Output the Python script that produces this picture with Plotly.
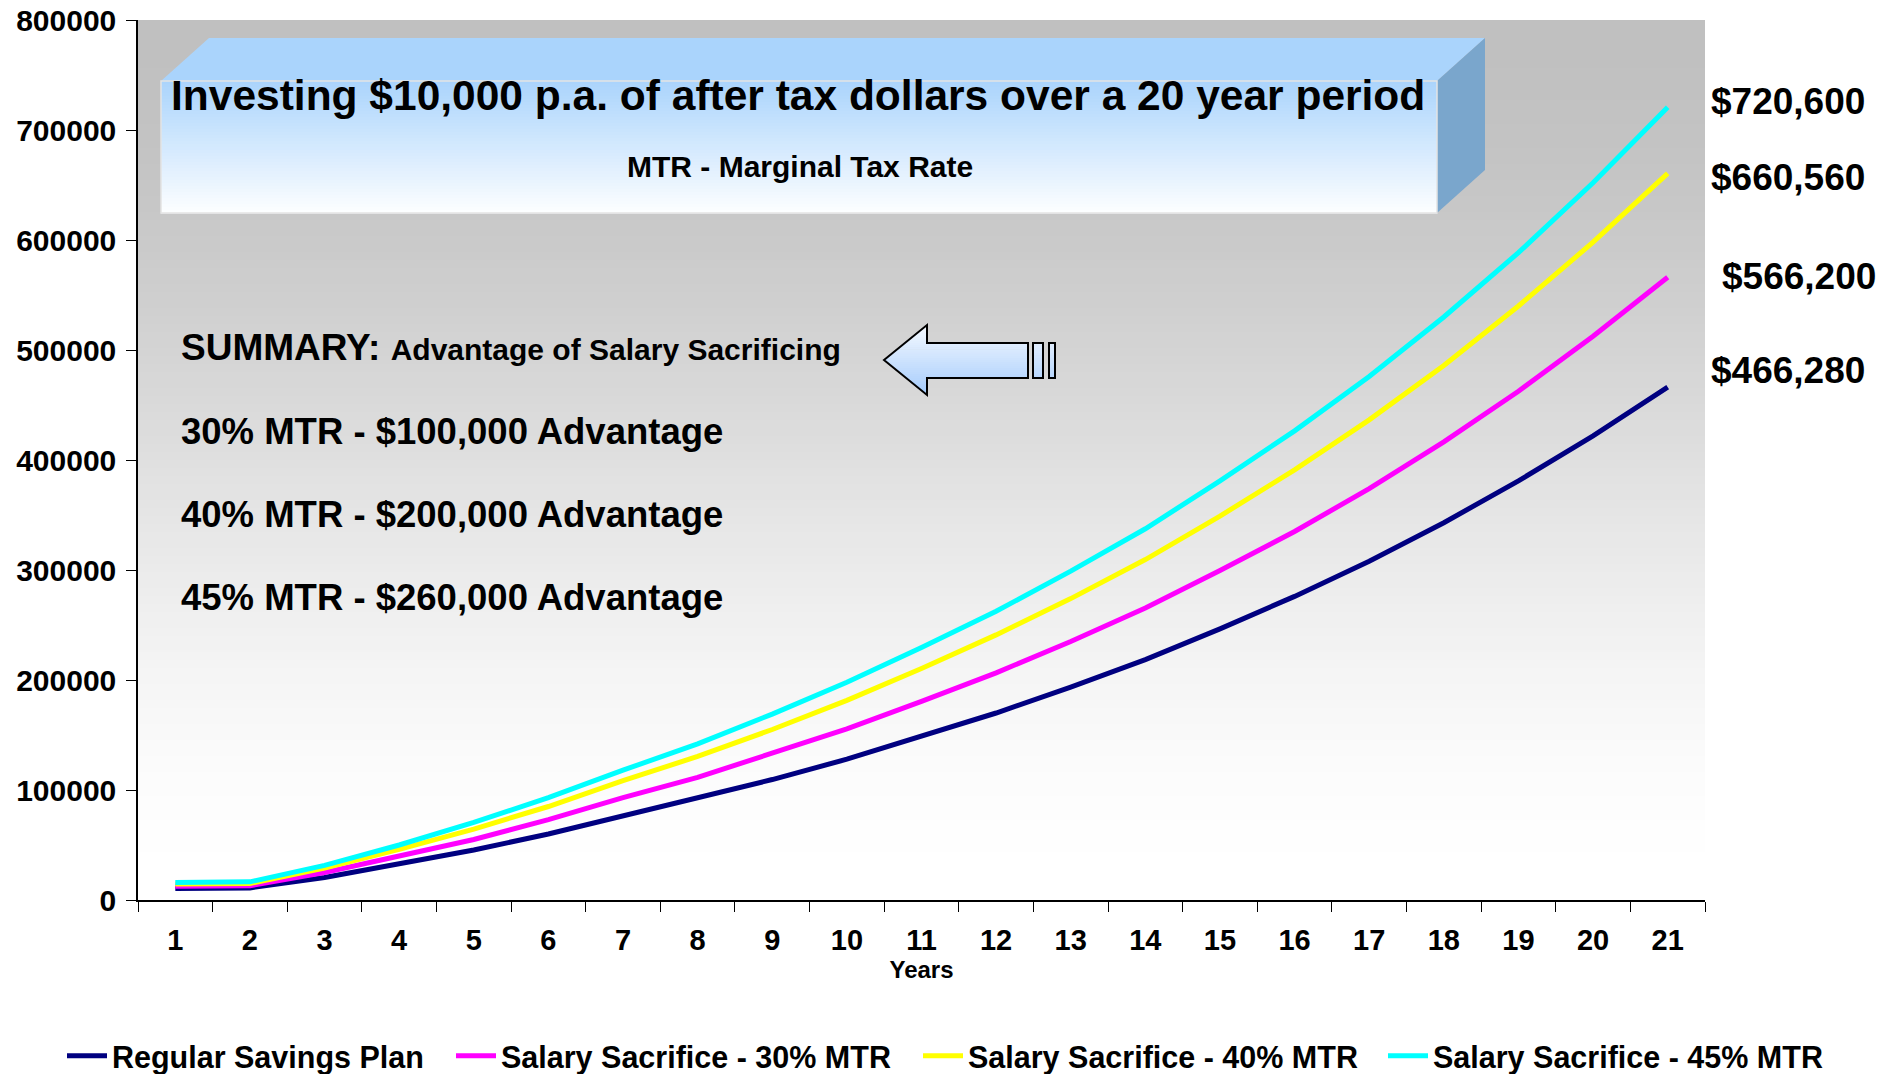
import plotly.graph_objects as go

# ---------------- data ----------------
years = [str(i) for i in range(1, 22)]

regular = [10500, 11000, 20500, 32500, 45500, 60000, 76500, 92000, 109500, 128000,
           148500, 170000, 193500, 218500, 246500, 276000, 308000, 343000, 381000,
           422000, 466280]
mtr30 = [12500, 13000, 25000, 39500, 55000, 73000, 93000, 111500, 133000, 155500,
         180500, 206500, 235000, 265500, 299500, 335000, 374000, 416500, 462500,
         512500, 566200]
mtr40 = [14500, 15000, 29000, 46000, 64500, 85000, 108500, 130500, 155000, 181500,
         210500, 241000, 274000, 309500, 349000, 391000, 436500, 486000, 540000,
         598000, 660560]
mtr45 = [16000, 16500, 31500, 50000, 70500, 93000, 118000, 142000, 169000, 198000,
         229500, 262500, 299000, 337500, 381000, 426500, 476000, 530000, 588500,
         652000, 720600]

series_names = ["Regular Savings Plan", "Salary Sacrifice - 30% MTR",
                "Salary Sacrifice - 40% MTR", "Salary Sacrifice - 45% MTR"]
series_colors = ["#000080", "#ff00ff", "#ffff00", "#00ffff"]

y_ticks = [0, 100000, 200000, 300000, 400000, 500000, 600000, 700000, 800000]

end_labels = ["$720,600", "$660,560", "$566,200", "$466,280"]
title_text = "Investing $10,000 p.a. of after tax dollars over a 20 year period"
subtitle_text = "MTR - Marginal Tax Rate"
summary_head = "SUMMARY:"
summary_sub = "Advantage of Salary Sacrificing"
summary_lines = ["30% MTR - $100,000 Advantage",
                 "40% MTR - $200,000 Advantage",
                 "45% MTR - $260,000 Advantage"]

FONT = "Liberation Sans, Arial, Helvetica, sans-serif"

# ---------------- geometry helpers (pixel -> paper) ----------------
PL, PR, PT, PB = 138, 1705, 20, 900
W, H = 1896, 1074


def X(px):
    return (px - PL) / (PR - PL)


def Y(py):
    return (PB - py) / (PB - PT)


def rgb(c):
    return "rgb(%d,%d,%d)" % tuple(int(round(v)) for v in c)


def mix(a, b, t):
    return [a[i] + (b[i] - a[i]) * t for i in range(3)]


shapes = []

# plot-area gradient (grey at top -> white at bottom)
step = 8
y = PT
while y < PB:
    y2 = min(y + step, PB)
    t = ((y + y2) / 2 - PT) / (PB - PT)
    f = 3 * t * t - 2 * t ** 3
    g = 192 + 63 * f
    shapes.append(dict(type="rect", xref="paper", yref="paper", layer="below",
                       x0=0, x1=1, y0=Y(y2 + 0.6), y1=Y(y),
                       fillcolor=rgb((g, g, g)), line=dict(width=0)))
    y = y2

# 3D title box
fx0, fx1, fy0, fy1 = 161, 1437, 81, 213
depth_x, depth_y = 48, 43
top_col = (170, 212, 252)
shapes.append(dict(type="path", xref="paper", yref="paper", layer="below",
                   path="M %f,%f L %f,%f L %f,%f L %f,%f Z" % (
                       X(fx0), Y(fy0), X(fx0 + depth_x), Y(fy0 - depth_y),
                       X(fx1 + depth_x), Y(fy0 - depth_y), X(fx1), Y(fy0)),
                   fillcolor=rgb(top_col), line=dict(width=0)))
shapes.append(dict(type="path", xref="paper", yref="paper", layer="below",
                   path="M %f,%f L %f,%f L %f,%f L %f,%f Z" % (
                       X(fx1), Y(fy0), X(fx1 + depth_x), Y(fy0 - depth_y),
                       X(fx1 + depth_x), Y(fy1 - depth_y), X(fx1), Y(fy1)),
                   fillcolor="rgb(122,166,204)", line=dict(width=0)))
nb = 44
for i in range(nb):
    ya = fy0 + (fy1 - fy0) * i / nb
    yb = fy0 + (fy1 - fy0) * (i + 1) / nb
    c = mix(top_col, (253, 254, 255), (i + 0.5) / nb)
    shapes.append(dict(type="rect", xref="paper", yref="paper", layer="below",
                       x0=X(fx0), x1=X(fx1), y0=Y(yb + 0.5), y1=Y(ya),
                       fillcolor=rgb(c), line=dict(width=0)))
shapes.append(dict(type="rect", xref="paper", yref="paper", layer="below",
                   x0=X(fx0), x1=X(fx1), y0=Y(fy1), y1=Y(fy0),
                   fillcolor="rgba(0,0,0,0)", line=dict(width=1.5, color="#e4e4e4")))

# block arrow pointing left
tipx, tipy = 884, 360
hx, htop, hbot = 927, 325, 395
stop, sbot, sx = 343, 378, 1028
a_top, a_bot = (246, 250, 255), (164, 203, 252)


def xl(yy):
    return tipx + (hx - tipx) * abs(yy - tipy) / (tipy - htop)


def acol(yy):
    return mix(a_top, a_bot, (yy - htop) / (hbot - htop))


segs = [(htop, stop, hx), (stop, tipy, sx), (tipy, sbot, sx), (sbot, hbot, hx)]
for (s0, s1, xr) in segs:
    n = max(2, int((s1 - s0) / 2))
    for k in range(n):
        ya = s0 + (s1 - s0) * k / n
        yb = s0 + (s1 - s0) * (k + 1) / n
        c = acol((ya + yb) / 2)
        shapes.append(dict(type="path", xref="paper", yref="paper", layer="below",
                           path="M %f,%f L %f,%f L %f,%f L %f,%f Z" % (
                               X(xl(ya)), Y(ya), X(xr), Y(ya),
                               X(xr), Y(yb + 0.4), X(xl(yb + 0.4)), Y(yb + 0.4)),
                           fillcolor=rgb(c), line=dict(width=0)))
bars = [(1033, 1043), (1049, 1055)]
n = 14
for (b0, b1) in bars:
    for k in range(n):
        ya = stop + (sbot - stop) * k / n
        yb = stop + (sbot - stop) * (k + 1) / n
        c = acol((ya + yb) / 2)
        shapes.append(dict(type="rect", xref="paper", yref="paper", layer="below",
                           x0=X(b0), x1=X(b1), y0=Y(yb + 0.4), y1=Y(ya),
                           fillcolor=rgb(c), line=dict(width=0)))
outline = "M %f,%f L %f,%f L %f,%f L %f,%f L %f,%f L %f,%f L %f,%f Z" % (
    X(tipx), Y(tipy), X(hx), Y(htop), X(hx), Y(stop), X(sx), Y(stop),
    X(sx), Y(sbot), X(hx), Y(sbot), X(hx), Y(hbot))
shapes.append(dict(type="path", xref="paper", yref="paper", layer="below",
                   path=outline, fillcolor="rgba(0,0,0,0)",
                   line=dict(width=2, color="black")))
for (b0, b1) in bars:
    shapes.append(dict(type="rect", xref="paper", yref="paper", layer="below",
                       x0=X(b0), x1=X(b1), y0=Y(sbot), y1=Y(stop),
                       fillcolor="rgba(0,0,0,0)", line=dict(width=2, color="black")))

# ---------------- traces (one legend box per series, placed like the reference) ----------------
fig = go.Figure()
legend_ids = ["legend", "legend2", "legend3", "legend4"]
legend_text_x = [115, 504, 971, 1436]     # pixel x where each legend text starts
for name, lid, vals, col in zip(series_names, legend_ids,
                                [regular, mtr30, mtr40, mtr45], series_colors):
    fig.add_trace(go.Scatter(x=years, y=vals, name=name, mode="lines", legend=lid,
                             line=dict(color=col, width=5)))

legend_layout = {}
for lid, tx in zip(legend_ids, legend_text_x):
    legend_layout[lid] = dict(
        orientation="h", x=X(tx - 53), xanchor="left", y=Y(1056), yanchor="middle",
        xref="paper", yref="paper",
        font=dict(family=FONT, size=30.5, color="black", weight="bold"),
        bgcolor="rgba(0,0,0,0)", itemwidth=40)

# ---------------- annotations ----------------
ann = []


def bold(size):
    return dict(family=FONT, size=size, color="black", weight="bold")


ann.append(dict(text=title_text, x=X(798), y=Y(96), xref="paper", yref="paper",
                xanchor="center", yanchor="middle", showarrow=False, font=bold(42.5)))
ann.append(dict(text=subtitle_text, x=X(800), y=Y(166), xref="paper", yref="paper",
                xanchor="center", yanchor="middle", showarrow=False, font=bold(30)))
ann.append(dict(text=summary_head + " <span style='font-size:30px'>" + summary_sub + "</span>",
                x=X(179), y=Y(348), xref="paper", yref="paper",
                xanchor="left", yanchor="middle", showarrow=False, font=bold(37)))
for txt, py in zip(summary_lines, [432, 514, 597]):
    ann.append(dict(text=txt, x=X(179), y=Y(py), xref="paper", yref="paper",
                    xanchor="left", yanchor="middle", showarrow=False, font=bold(36.5)))
for txt, px, py in zip(end_labels, [1709, 1709, 1720, 1709], [102, 177, 277, 371]):
    ann.append(dict(text=txt, x=X(px), y=Y(py), xref="paper", yref="paper",
                    xanchor="left", yanchor="middle", showarrow=False, font=bold(37)))

fig.update_layout(
    width=W, height=H,
    margin=dict(l=PL, r=W - PR, t=PT, b=H - PB, pad=0, autoexpand=False),
    paper_bgcolor="white", plot_bgcolor="white",
    shapes=shapes, annotations=ann,
    showlegend=True,
    xaxis=dict(type="category", range=[-0.5, 20.5], tickson="boundaries",
               ticks="outside", ticklen=10, automargin=False,
               tickcolor="black", tickwidth=1, showline=True, linecolor="black",
               linewidth=1.5, showgrid=False, zeroline=False,
               tickfont=dict(family=FONT, size=29, color="black", weight="bold"),
               ticklabelstandoff=13,
               title=dict(text="Years", standoff=4,
                          font=dict(family=FONT, size=24, color="black", weight="bold"))),
    yaxis=dict(range=[0, 800000], tickvals=y_ticks, tickformat="d", ticks="outside",
               ticklen=10, tickcolor="black", tickwidth=1, showline=True,
               automargin=False,
               linecolor="black", linewidth=1.5, showgrid=False, zeroline=False,
               tickfont=dict(family=FONT, size=30, color="black", weight="bold"),
               ticklabelstandoff=4),
    **legend_layout,
)

fig.write_html("out.html", config={"displayModeBar": False},
               post_script="document.body.style.margin='0';document.body.style.overflow='hidden';")
